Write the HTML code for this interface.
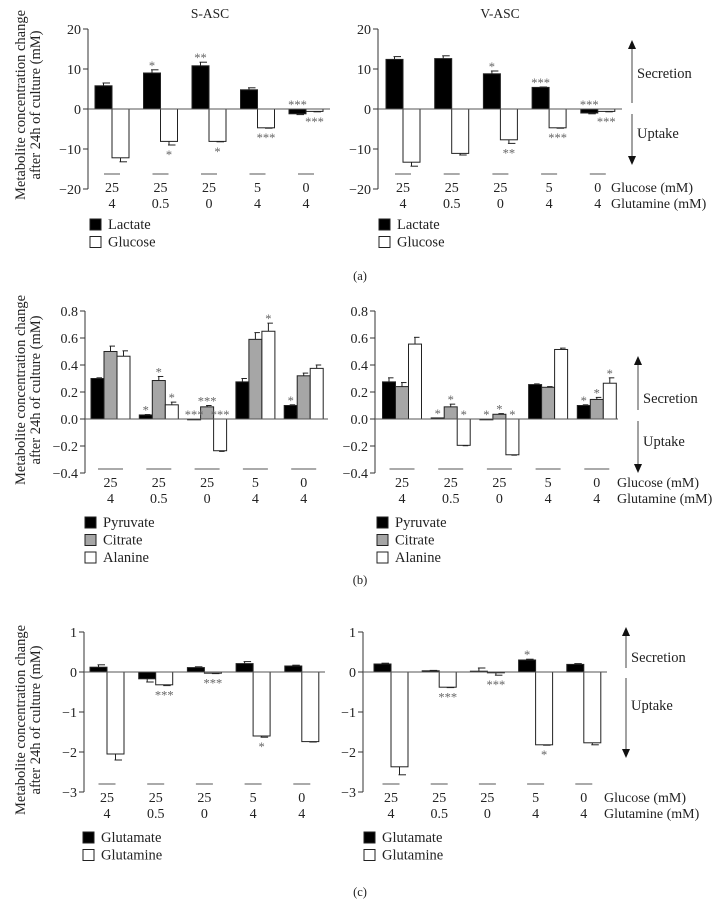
<!DOCTYPE html>
<html><head><meta charset="utf-8">
<style>
html,body{margin:0;padding:0;background:#fff;}
svg{display:block;font-family:"Liberation Serif",serif;}
</style></head>
<body>
<svg id="fig" width="715" height="911" viewBox="0 0 715 911" xmlns="http://www.w3.org/2000/svg" font-family="Liberation Serif, serif"></svg>
<script>
// ---- data ----
const glucoseLabels = ["25","25","25","5","0"];
const glutamineLabels = ["4","0.5","0","4","4"];
// (a)
const aS_lactate = [5.8, 9.0, 10.8, 4.8, -1.2];
const aS_lactateErr = [0.7, 0.8, 0.9, 0.5, 0.2];
const aS_glucose = [-12.2, -8.1, -8.1, -4.7, -0.6];
const aS_glucoseErr = [1.0, 0.9, 0.1, 0.1, 0.1];
const aV_lactate = [12.4, 12.6, 8.8, 5.4, -1.0];
const aV_lactateErr = [0.7, 0.7, 0.7, 0.1, 0.2];
const aV_glucose = [-13.3, -11.1, -7.7, -4.7, -0.6];
const aV_glucoseErr = [1.0, 0.4, 0.9, 0.1, 0.1];
const aTicks = [20, 10, 0, -10, -20];
// (b)
const bS_pyruvate = [0.30, 0.03, 0.0, 0.275, 0.10];
const bS_pyruvateErr = [0.005, 0.003, 0, 0.025, 0.005];
const bS_citrate = [0.50, 0.285, 0.09, 0.59, 0.32];
const bS_citrateErr = [0.04, 0.03, 0.01, 0.05, 0.02];
const bS_alanine = [0.465, 0.105, -0.235, 0.65, 0.375];
const bS_alanineErr = [0.04, 0.02, 0.005, 0.06, 0.025];
const bV_pyruvate = [0.275, 0.008, 0.0, 0.255, 0.10];
const bV_pyruvateErr = [0.03, 0, 0, 0.005, 0.005];
const bV_citrate = [0.24, 0.09, 0.035, 0.235, 0.145];
const bV_citrateErr = [0.03, 0.02, 0.005, 0.005, 0.015];
const bV_alanine = [0.555, -0.195, -0.265, 0.515, 0.265];
const bV_alanineErr = [0.05, 0.003, 0.003, 0.01, 0.04];
const bTicks = [0.8, 0.6, 0.4, 0.2, 0.0, -0.2, -0.4];
const bTickLabels = ["0.8","0.6","0.4","0.2","0.0","\u22120.2","\u22120.4"];
// (c)
const cS_glutamate = [0.12, -0.17, 0.11, 0.21, 0.15];
const cS_glutamateErr = [0.06, 0.08, 0.02, 0.05, 0.02];
const cS_glutamine = [-2.05, -0.32, -0.03, -1.6, -1.74];
const cS_glutamineErr = [0.15, 0.02, 0.01, 0.03, 0.01];
const cV_glutamate = [0.20, 0.03, 0.02, 0.30, 0.19];
const cV_glutamateErr = [0.02, 0.01, 0.08, 0.02, 0.02];
const cV_glutamine = [-2.37, -0.38, -0.02, -1.82, -1.77];
const cV_glutamineErr = [0.2, 0.01, 0.06, 0.01, 0.05];
const cTicks = [1, 0, -1, -2, -3];
// significance marks: [group, series, text, 'u'|'d']
const aS_stars = [[1,0,"*","u"],[2,0,"**","u"],[4,0,"***","u"],[1,1,"*","d"],[2,1,"*","d"],[3,1,"***","d"],[4,1,"***","d"]];
const aV_stars = [[2,0,"*","u"],[3,0,"***","u"],[4,0,"***","u"],[2,1,"**","d"],[3,1,"***","d"],[4,1,"***","d"]];
const bS_stars = [[1,0,"*","u"],[1,1,"*","u"],[1,2,"*","u"],[2,0,"***","u"],[2,1,"***","u"],[2,2,"***","u"],[3,2,"*","u"],[4,0,"*","u"]];
const bV_stars = [[1,0,"*","u"],[1,1,"*","u"],[1,2,"*","u"],[2,0,"*","u"],[2,1,"*","u"],[2,2,"*","u"],[4,0,"*","u"],[4,1,"*","u"],[4,2,"*","u"]];
const cS_stars = [[1,1,"***","d"],[2,1,"***","d"],[3,1,"*","d"]];
const cV_stars = [[1,1,"***","d"],[2,1,"***","d"],[3,0,"*","u"],[3,1,"*","d"]];

const NS = "http://www.w3.org/2000/svg";
const svg = document.getElementById('fig');
function mk(tag, attrs, parent, txt){
  const e = document.createElementNS(NS, tag);
  for (const k in attrs) e.setAttribute(k, attrs[k]);
  if (txt !== undefined) e.textContent = txt;
  (parent||svg).appendChild(e);
  return e;
}
const fills = ["#000", "#a6a6a6", "#fff"];

function chart(c){
  const g = mk('g', {});
  
  
  const y = v => c.y0 - v * c.ppu;
  const yTop = y(c.ticks[0]), yBot = y(c.ticks[c.ticks.length-1]);
  const ax = mk('line', {x1:c.ax, x2:c.ax, y1:yTop, y2:yBot, stroke:'#333', 'stroke-width':1}, g);
  
  
  c.ticks.forEach((t, i) => {
    mk('line', {x1:c.ax-5, x2:c.ax, y1:y(t), y2:y(t), stroke:'#333'}, g);
    const tl = mk('text', {x:c.ax-7, y:y(t)+5, 'text-anchor':'end', 'font-size':14, fill:'#222'}, g,
      c.tickLabels ? c.tickLabels[i] : String(t).replace('-', '\u2212'));
    
    
  });
  const n = c.series.length, bw = c.bw;
  c.series.forEach((s, si) => {
    s.forEach((v, gi) => {
      const cx = c.gx + gi * c.gs;
      const x = cx - n*bw/2 + si*bw;
      const top = Math.min(y(v), y(0)), h = Math.max(Math.abs(y(v)-y(0)), 0.8);
      const r = mk('rect', {x:x, y:top, width:bw, height:h, fill:fills[c.fillIdx[si]], stroke:'#222', 'stroke-width':1}, g);
      
      
      const e = c.errs[si][gi];
      if (e > 0) {
        const ye = v >= 0 ? y(v + e) : y(v - e);
        mk('line', {x1:x+bw/2, x2:x+bw/2, y1:y(v), y2:ye, stroke:'#222'}, g);
        mk('line', {x1:x+bw/2-1, x2:x+bw-2, y1:ye, y2:ye, stroke:'#222'}, g);
      }
    });
  });
  const zl = mk('line', {x1:c.ax, x2:c.axEnd, y1:y(0), y2:y(0), stroke:'#555', 'stroke-width':1}, g);
  
  
  c.stars.forEach(st => {
    const [gi, si, txt, dir] = st;
    const cx = c.gx + gi * c.gs - n*bw/2 + si*bw + bw/2;
    const v = c.series[si][gi], e = c.errs[si][gi];
    let ty;
    if (dir === 'u') ty = Math.min(y(Math.max(v,0) + (v>0?e:0)), y(0)) - 3;
    else ty = y(v - e) + 11;
    const t = mk('text', {x:cx, y:ty+3, 'text-anchor':'middle', 'font-size':12.5, fill:'#666'}, g, txt);
    
    
  });
  glucoseLabels.forEach((l, gi) => {
    const cx = c.gx + gi * c.gs;
    mk('line', {x1:cx-c.sepW/2, x2:cx+c.sepW/2, y1:c.sepY, y2:c.sepY, stroke:'#555', 'stroke-width':1}, g);
    const t1 = mk('text', {x:cx, y:c.sepY+18, 'text-anchor':'middle', 'font-size':14, fill:'#222'}, g, l);
    
    
    const t2 = mk('text', {x:cx, y:c.sepY+34, 'text-anchor':'middle', 'font-size':14, fill:'#222'}, g, glutamineLabels[gi]);
    
    
  });
  if (c.rowLabelX) {
    const r1 = mk('text', {x:c.rowLabelX, y:c.sepY+18, 'font-size':14, fill:'#222'}, g, 'Glucose (mM)');
    
    
    const r2 = mk('text', {x:c.rowLabelX, y:c.sepY+34, 'font-size':14, fill:'#222'}, g, 'Glutamine (mM)');
    
    
  }
  c.seriesNames.forEach((nm, si) => {
    const ly = c.legY + si * 17.5;
    const sw = mk('rect', {x:c.legX, y:ly-10, width:11, height:11, fill:fills[c.fillIdx[si]], stroke:'#222'}, g);
    
    
    const lt = mk('text', {x:c.legX+18, y:ly, 'font-size':14.5, fill:'#222'}, g, nm);
    
    
  });
  if (c.arrow) {
    const A = c.arrow;
    mk('line', {x1:A.x, x2:A.x, y1:A.top+8, y2:A.gap1, stroke:'#444'}, g);
    mk('line', {x1:A.x, x2:A.x, y1:A.gap2, y2:A.bot-8, stroke:'#444'}, g);
    mk('path', {d:`M${A.x-4},${A.top+9} L${A.x},${A.top} L${A.x+4},${A.top+9} Z`, fill:'#111'}, g);
    mk('path', {d:`M${A.x-4},${A.bot-9} L${A.x},${A.bot} L${A.x+4},${A.bot-9} Z`, fill:'#111'}, g);
    const s1 = mk('text', {x:A.x+5, y:A.secY, 'font-size':14.5, fill:'#222'}, g, 'Secretion');
    
    
    const s2 = mk('text', {x:A.x+5, y:A.upY, 'font-size':14.5, fill:'#222'}, g, 'Uptake');
    
    
  }
}

[[105],[390],[720]].forEach((p, i) => {
  const t = mk('text', {transform:`translate(25,${p[0]}) rotate(-90)`, 'text-anchor':'middle', 'font-size':14.5, fill:'#222'}, svg);
  
  
  mk('tspan', {x:0, y:0}, t, 'Metabolite concentration change');
  mk('tspan', {x:0, y:15}, t, 'after 24h of culture (mM)');
});
const t1 = mk('text', {x:210, y:18, 'text-anchor':'middle', 'font-size':13.5, fill:'#222'}, svg, 'S-ASC');


const t2 = mk('text', {x:500, y:18, 'text-anchor':'middle', 'font-size':13.5, fill:'#222'}, svg, 'V-ASC');


[["(a)",280],["(b)",584],["(c)",896]].forEach(p => {
  const t = mk('text', {x:360, y:p[1], 'text-anchor':'middle', 'font-size':12.5, fill:'#222'}, svg, p[0]);
  
  
});

chart({name:'chart-a-s-asc', ax:88, axEnd:330, y0:109, ppu:4, ticks:aTicks, gx:112, gs:48.5, bw:17,
  series:[aS_lactate, aS_glucose], errs:[aS_lactateErr, aS_glucoseErr], seriesNames:['Lactate','Glucose'], fillIdx:[0,2],
  stars:aS_stars, sepY:174, sepW:16, legX:90, legY:229});
chart({name:'chart-a-v-asc', ax:378, axEnd:622, y0:109, ppu:4, ticks:aTicks, gx:403, gs:48.7, bw:17,
  series:[aV_lactate, aV_glucose], errs:[aV_lactateErr, aV_glucoseErr], seriesNames:['Lactate','Glucose'], fillIdx:[0,2],
  stars:aV_stars, sepY:174, sepW:16, legX:379, legY:229, rowLabelX:611,
  arrow:{x:632, top:40, bot:165, gap1:103, gap2:114, secY:78, upY:138}});
chart({name:'chart-b-s-asc', ax:85, axEnd:328, y0:419, ppu:135, ticks:bTicks, tickLabels:bTickLabels, gx:110.5, gs:48.3, bw:13,
  series:[bS_pyruvate, bS_citrate, bS_alanine], errs:[bS_pyruvateErr, bS_citrateErr, bS_alanineErr], seriesNames:['Pyruvate','Citrate','Alanine'], fillIdx:[0,1,2],
  stars:bS_stars, sepY:469, sepW:25, legX:85, legY:527});
chart({name:'chart-b-v-asc', ax:375, axEnd:618, y0:419, ppu:135, ticks:bTicks, tickLabels:bTickLabels, gx:402, gs:48.7, bw:13,
  series:[bV_pyruvate, bV_citrate, bV_alanine], errs:[bV_pyruvateErr, bV_citrateErr, bV_alanineErr], seriesNames:['Pyruvate','Citrate','Alanine'], fillIdx:[0,1,2],
  stars:bV_stars, sepY:469, sepW:25, legX:377, legY:527, rowLabelX:617,
  arrow:{x:638, top:356, bot:473, gap1:410, gap2:421, secY:403, upY:446}});
chart({name:'chart-c-s-asc', ax:84, axEnd:325, y0:672, ppu:40, ticks:cTicks, gx:107, gs:48.7, bw:17,
  series:[cS_glutamate, cS_glutamine], errs:[cS_glutamateErr, cS_glutamineErr], seriesNames:['Glutamate','Glutamine'], fillIdx:[0,2],
  stars:cS_stars, sepY:784, sepW:17, legX:83, legY:842});
chart({name:'chart-c-v-asc', ax:363, axEnd:607, y0:672, ppu:40, ticks:cTicks, gx:391, gs:48.2, bw:17,
  series:[cV_glutamate, cV_glutamine], errs:[cV_glutamateErr, cV_glutamineErr], seriesNames:['Glutamate','Glutamine'], fillIdx:[0,2],
  stars:cV_stars, sepY:784, sepW:17, legX:364, legY:842, rowLabelX:604,
  arrow:{x:626, top:627, bot:758, gap1:668, gap2:678, secY:662, upY:710}});
</script>
</body></html>
